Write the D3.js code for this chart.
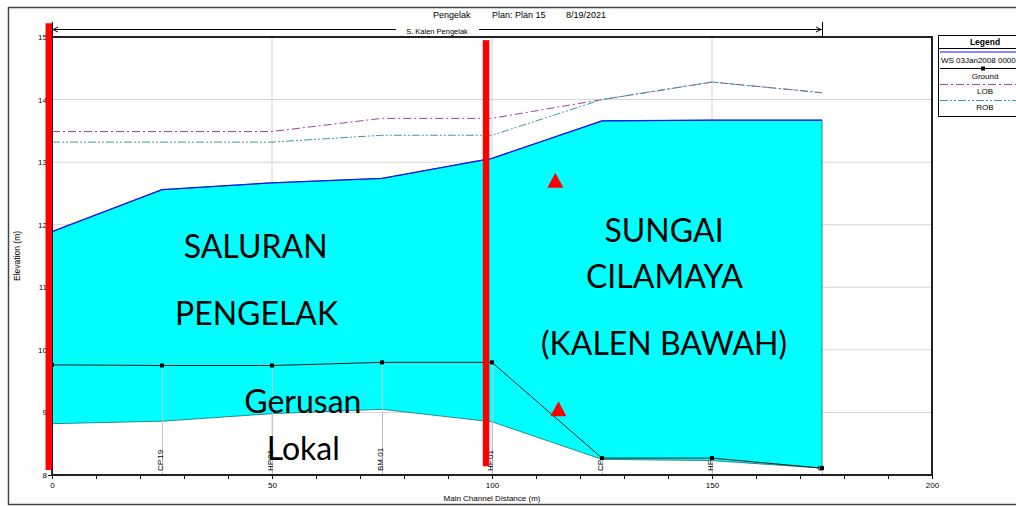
<!DOCTYPE html>
<style>
body { margin: 0; background: #fff; }
text { font-family: "Liberation Sans", Arial, sans-serif; fill: #000; }
.axis .domain { display: none; }
.axis text { font-size: 8px; }
.note { font-family: Lato, "Noto Sans", sans-serif; font-size: 32px; text-anchor: middle; }
</style>
<svg width="1016" height="506"></svg>
<script src="https://d3js.org/d3.v7.min.js"></script>
<script>

// profile data (main channel distance in m, elevation in m)
var stations = [0, 25, 50, 75, 100, 125, 150, 175];
var stationNames = ["", "CP.19", "HP.01", "BM.01", "HF.01", "CP", "HF", "C"];
var ws = [11.89, 12.56, 12.67, 12.74, 13.06, 13.66, 13.67, 13.67];
var ground = [9.76, 9.75, 9.75, 9.80, 9.80, 8.27, 8.27, 8.11];
var invert = [8.82, 8.86, 8.98, 9.05, 8.85, 8.25, 8.23, 8.11];
var lob = [13.49, 13.49, 13.49, 13.70, 13.70, 14.00, 14.28, 14.11];
var rob = [13.32, 13.32, 13.32, 13.43, 13.43, 14.00, 14.28, 14.11];
var xTicks = [0, 50, 100, 150, 200];
var yTicks = [8, 9, 10, 11, 12, 13, 14, 15];

// annotations drawn over the plot (in data units)
var noteText = ["SALURAN", "PENGELAK", "Gerusan", "Lokal", "SUNGAI", "CILAMAYA", "(KALEN BAWAH)"];
var noteX = [46.3, 46.5, 57.0, 57.1, 139.1, 139.2, 139.1];
var noteY = [11.47, 10.40, 8.99, 8.24, 11.72, 10.99, 9.92];
var barX = [-0.74, 98.64];
var barTop = [15.22, 14.95];
var barBottom = [8.08, 8.14];
var triX = [114.4, 115.1];
var triY = [12.59, 8.94];

var svg = d3.select("svg"),
    margin = {top: 37, right: 84, bottom: 31, left: 52},
    width = +svg.attr("width") - margin.left - margin.right,
    height = +svg.attr("height") - margin.top - margin.bottom;

var x = d3.scaleLinear().domain([0, 200]).range([margin.left, margin.left + width]);
var y = d3.scaleLinear().domain([8, 15]).range([margin.top + height, margin.top]);

var rows = stations.map(function(s, i) {
  return {s: s, name: stationNames[i], ws: ws[i], ground: ground[i], inv: invert[i], lob: lob[i], rob: rob[i]};
});

// outer frame
svg.append("rect")
    .attr("x", 8.5).attr("y", 7.5).attr("width", 1100).attr("height", 497)
    .attr("fill", "none").attr("stroke", "#444").attr("stroke-width", 1.5);

// grid
svg.append("g").selectAll("line")
    .data(yTicks.slice(1, -1))
    .enter().append("line")
      .attr("x1", x(0)).attr("x2", x(200))
      .attr("y1", function(d) { return y(d); }).attr("y2", function(d) { return y(d); })
      .attr("stroke", "#d4d4d4");
svg.append("g").selectAll("line")
    .data(xTicks.slice(1, -1))
    .enter().append("line")
      .attr("y1", y(8)).attr("y2", y(15))
      .attr("x1", function(d) { return x(d); }).attr("x2", function(d) { return x(d); })
      .attr("stroke", "#d4d4d4");

// water body
svg.append("path")
    .datum(rows)
    .attr("fill", "#00ffff")
    .attr("stroke", "#137070")
    .attr("stroke-width", 0.8)
    .attr("d", d3.area()
        .x(function(d) { return x(d.s); })
        .y0(function(d) { return y(d.inv); })
        .y1(function(d) { return y(d.ws); }));

// station lines below ground
svg.append("g").selectAll("line")
    .data(rows.slice(1))
    .enter().append("line")
      .attr("x1", function(d) { return x(d.s) + 0.5; }).attr("x2", function(d) { return x(d.s) + 0.5; })
      .attr("y1", y(8)).attr("y2", function(d) { return y(d.ground); })
      .attr("stroke", "#c4c4c4");

var line = function(key) {
  return d3.line().x(function(d) { return x(d.s); }).y(function(d) { return y(d[key]); });
};

svg.append("path").datum(rows)
    .attr("fill", "none").attr("stroke", "#a040a0").attr("stroke-dasharray", "8,3,2,3")
    .attr("d", line("lob"));
svg.append("path").datum(rows)
    .attr("fill", "none").attr("stroke", "#3a9e9e").attr("stroke-dasharray", "8,2,2,2,2,2")
    .attr("d", line("rob"));
svg.append("path").datum(rows)
    .attr("fill", "none").attr("stroke", "#1a1a1a").attr("stroke-width", 1)
    .attr("d", line("ground"));
svg.append("g").selectAll("rect")
    .data(rows)
    .enter().append("rect")
      .attr("x", function(d) { return x(d.s) - 2; })
      .attr("y", function(d) { return y(d.ground) - 2; })
      .attr("width", 4).attr("height", 4)
      .attr("fill", "#000");
svg.append("path").datum(rows)
    .attr("fill", "none").attr("stroke", "#1010ff").attr("stroke-width", 1.3)
    .attr("d", line("ws"));

// station labels
svg.append("g").selectAll("text")
    .data(rows)
    .enter().append("text")
      .attr("transform", function(d) { return "translate(" + (x(d.s) + 0.5) + "," + (y(8) - 4) + ") rotate(-90)"; })
      .attr("font-size", 8)
      .text(function(d) { return d.name; });

// axes
svg.append("g")
    .attr("class", "axis")
    .attr("transform", "translate(0," + y(8) + ")")
    .call(d3.axisBottom(x).tickValues(d3.range(0, 201, 10)).tickSize(4).tickPadding(3)
      .tickFormat(function(d) { return xTicks.indexOf(d) >= 0 ? d : ""; }));

svg.append("g")
    .attr("class", "axis")
    .attr("transform", "translate(" + x(0) + ",0)")
    .call(d3.axisLeft(y).tickValues(yTicks).tickSize(4).tickPadding(1).tickFormat(d3.format("d")));

svg.selectAll(".axis line").attr("stroke", "#000");

// plot border
svg.append("rect")
    .attr("x", x(0)).attr("y", y(15)).attr("width", x(200) - x(0)).attr("height", y(8) - y(15))
    .attr("fill", "none").attr("stroke", "#222").attr("stroke-width", 2);

svg.append("text")
    .attr("x", (x(0) + x(200)) / 2).attr("y", 501)
    .attr("text-anchor", "middle").attr("font-size", 8)
    .text("Main Channel Distance (m)");

svg.append("text")
    .attr("transform", "translate(20," + 256 + ") rotate(-90)")
    .attr("text-anchor", "middle").attr("font-size", 8.5)
    .text("Elevation (m)");

// title
svg.append("text").attr("x", 433).attr("y", 18).attr("font-size", 9).text("Pengelak");
svg.append("text").attr("x", 492).attr("y", 18).attr("font-size", 9).text("Plan: Plan 15");
svg.append("text").attr("x", 566).attr("y", 18).attr("font-size", 9).text("8/19/2021");

// reach arrow
var ra = x(stations[0]), rb = x(stations[stations.length - 1]), rm = (ra + rb) / 2, ry = 29.5;
var reach = svg.append("g").attr("stroke", "#000").attr("fill", "none");
reach.append("line").attr("x1", ra).attr("x2", rm - 41).attr("y1", ry).attr("y2", ry);
reach.append("line").attr("x1", rm + 42).attr("x2", rb).attr("y1", ry).attr("y2", ry);
reach.append("line").attr("x1", ra + 0.5).attr("x2", ra + 0.5).attr("y1", 22).attr("y2", 37);
reach.append("line").attr("x1", rb + 0.5).attr("x2", rb + 0.5).attr("y1", 22).attr("y2", 37);
reach.append("path").attr("d", "M" + (ra + 6) + "," + (ry - 2.5) + "L" + (ra + 1) + "," + ry + "L" + (ra + 6) + "," + (ry + 2.5));
reach.append("path").attr("d", "M" + (rb - 6) + "," + (ry - 2.5) + "L" + (rb - 1) + "," + ry + "L" + (rb - 6) + "," + (ry + 2.5));
svg.append("text")
    .attr("x", rm).attr("y", 33.5).attr("text-anchor", "middle").attr("font-size", 7.5)
    .text("S. Kalen Pengelak");

// legend
var lg = svg.append("g");
lg.append("rect").attr("x", 938.5).attr("y", 35.5).attr("width", 100).attr("height", 81)
    .attr("fill", "#fff").attr("stroke", "#000");
lg.append("line").attr("x1", 938).attr("x2", 1016).attr("y1", 48.5).attr("y2", 48.5).attr("stroke", "#000");
lg.append("text").attr("x", 985).attr("y", 45).attr("text-anchor", "middle")
    .attr("font-size", 8.5).attr("font-weight", "bold").text("Legend");
lg.append("line").attr("x1", 940).attr("x2", 1016).attr("y1", 52).attr("y2", 52).attr("stroke", "#1010ff");
lg.append("text").attr("x", 941).attr("y", 63).attr("font-size", 8).text("WS  03Jan2008 0000");
lg.append("line").attr("x1", 940).attr("x2", 1016).attr("y1", 68.5).attr("y2", 68.5).attr("stroke", "#000");
lg.append("rect").attr("x", 981).attr("y", 66.5).attr("width", 4).attr("height", 4).attr("fill", "#000");
lg.append("text").attr("x", 985).attr("y", 79).attr("text-anchor", "middle").attr("font-size", 8).text("Ground");
lg.append("line").attr("x1", 940).attr("x2", 1016).attr("y1", 84.5).attr("y2", 84.5)
    .attr("stroke", "#a040a0").attr("stroke-dasharray", "8,3,2,3");
lg.append("text").attr("x", 985).attr("y", 94).attr("text-anchor", "middle").attr("font-size", 8).text("LOB");
lg.append("line").attr("x1", 940).attr("x2", 1016).attr("y1", 100.5).attr("y2", 100.5)
    .attr("stroke", "#3a9e9e").attr("stroke-dasharray", "8,2,2,2,2,2");
lg.append("text").attr("x", 985).attr("y", 110).attr("text-anchor", "middle").attr("font-size", 8).text("ROB");

// red markers
svg.append("g").selectAll("rect")
    .data(barX)
    .enter().append("rect")
      .attr("x", function(d) { return x(d) - 3.2; })
      .attr("y", function(d, i) { return y(barTop[i]); })
      .attr("width", 6.5)
      .attr("height", function(d, i) { return y(barBottom[i]) - y(barTop[i]); })
      .attr("fill", "#ff0000");

svg.append("g").selectAll("path")
    .data(triX)
    .enter().append("path")
      .attr("fill", "#ff0000")
      .attr("d", function(d, i) {
        var cx = x(d), by = y(triY[i]);
        return "M" + (cx - 8) + "," + by + "L" + cx + "," + (by - 15) + "L" + (cx + 8) + "," + by + "Z";
      });

svg.append("g").selectAll("text")
    .data(noteText)
    .enter().append("text")
      .attr("class", "note")
      .attr("x", function(d, i) { return x(noteX[i]); })
      .attr("y", function(d, i) { return y(noteY[i]); })
      .text(function(d) { return d; });

</script>
